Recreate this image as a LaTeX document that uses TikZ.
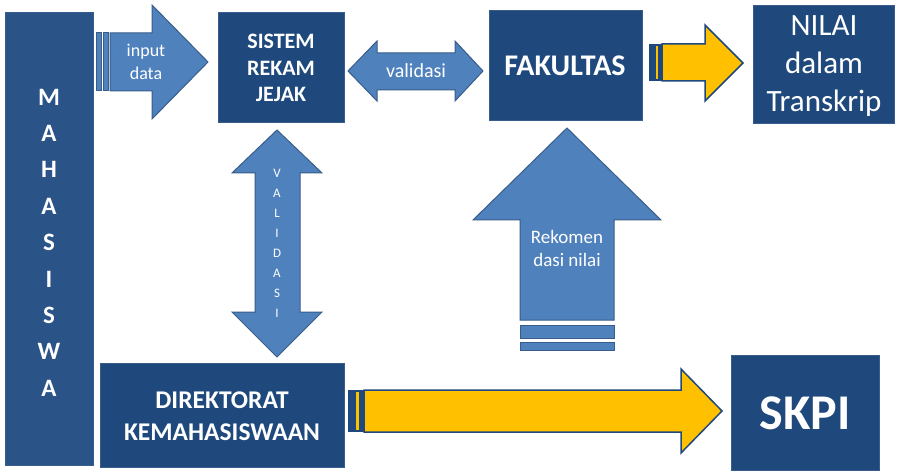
\documentclass[tikz,border=0pt]{standalone}
\usepackage{fontspec}
\setmainfont{Carlito}
\definecolor{boxblue}{HTML}{1F497D}
\definecolor{mahablue}{HTML}{2A5388}
\definecolor{arrowblue}{HTML}{4F81BD}
\definecolor{arrowedge}{HTML}{385D8A}
\definecolor{gold}{HTML}{FFC000}
\tikzset{
  darkbox/.style={fill=boxblue, draw=arrowedge, line width=0.8pt},
  bluearrow/.style={fill=arrowblue, draw=arrowedge, line width=1pt, line join=miter},
  goldarrow/.style={fill=gold, draw=boxblue, line width=1.5pt, line join=miter},
  lbl/.style={text=white, align=center, inner sep=0pt},
}
\begin{document}
\begin{tikzpicture}[x=1pt,y=-1pt]
\useasboundingbox (0,0) rectangle (900,473);
\fill[white] (0,0) rectangle (900,473);

% MAHASISWA column
\draw[darkbox, fill=mahablue] (5,12) rectangle (93,465);
\foreach \l [count=\i from 0] in {M,A,H,A,S,I,S,W,A}
  \node[lbl, font=\fontsize{25}{25}\selectfont\bfseries] (m\i) at (49,97+36.4*\i) {\l};

% boxes
\draw[darkbox] (218,12) rectangle (344,122);
\node[lbl, font=\fontsize{22}{26.5}\selectfont\bfseries] (sistem) at (281,68) {SISTEM\\REKAM\\JEJAK};

\draw[darkbox] (489,10) rectangle (642,120);
\node[lbl, font=\fontsize{30}{30}\selectfont\bfseries] (fak) at (565,66) {FAKULTAS};

\draw[darkbox] (753,5) rectangle (894,123);
\node[lbl, font=\fontsize{31}{38}\selectfont] (nilai) at (824,66) {NILAI\\dalam\\Transkrip};

\draw[darkbox] (100,363) rectangle (344,467);
\node[lbl, font=\fontsize{25.5}{32}\selectfont\bfseries] (dir) at (222,416) {DIREKTORAT\\KEMAHASISWAAN};

\draw[darkbox] (731,355) rectangle (879,470);
\node[lbl, font=\fontsize{50}{50}\selectfont\bfseries] (skpi) at (805,413) {SKPI};

% input data arrow
\draw[bluearrow] (96,33) rectangle (101,91);
\draw[bluearrow] (103,33) rectangle (108,91);
\draw[bluearrow] (110,33) -- (152,33) -- (152,5) -- (208,62) -- (152,119) -- (152,91) -- (110,91) -- cycle;
\node[lbl, font=\fontsize{18}{23}\selectfont] (input) at (146,62) {input\\data};

% validasi horizontal
\draw[bluearrow] (348,71) -- (377,41) -- (377,53) -- (455,53) -- (455,41) -- (483,71) -- (455,101) -- (455,90) -- (377,90) -- (377,101) -- cycle;
\node[lbl, font=\fontsize{20}{20}\selectfont] (val) at (416,71) {validasi};

% validasi vertical
\draw[bluearrow] (277,130) -- (322,173) -- (300,173) -- (300,312) -- (322,312) -- (277,357) -- (232,312) -- (255,312) -- (255,173) -- (232,173) -- cycle;
\foreach \l [count=\i from 0] in {V,A,L,I,D,A,S,I}
  \node[lbl, font=\fontsize{13}{13}\selectfont] (v\i) at (277,173+20*\i) {\l};

% rekomendasi up arrow
\draw[bluearrow] (567,128) -- (661,220) -- (614,220) -- (614,320) -- (520,320) -- (520,220) -- (473,220) -- cycle;
\draw[bluearrow] (520,325) rectangle (614,338);
\draw[bluearrow] (520,342) rectangle (614,350);
\node[lbl, font=\fontsize{19}{23}\selectfont] (rek) at (567,248) {Rekomen\\dasi nilai};

% gold arrow top
\fill[boxblue] (649,44) rectangle (662,81);
\fill[gold] (655.5,46) rectangle (658,79);
\draw[goldarrow] (662,44) -- (705,44) -- (705,25) -- (743,63) -- (705,101) -- (705,81) -- (662,81) -- cycle;

% gold arrow bottom
\fill[boxblue] (348,390) rectangle (364,432);
\fill[gold] (355.5,392) rectangle (358.5,430);
\draw[goldarrow] (364,390) -- (681,390) -- (681,369) -- (722,411) -- (681,453) -- (681,432) -- (364,432) -- cycle;
\end{tikzpicture}
\end{document}
